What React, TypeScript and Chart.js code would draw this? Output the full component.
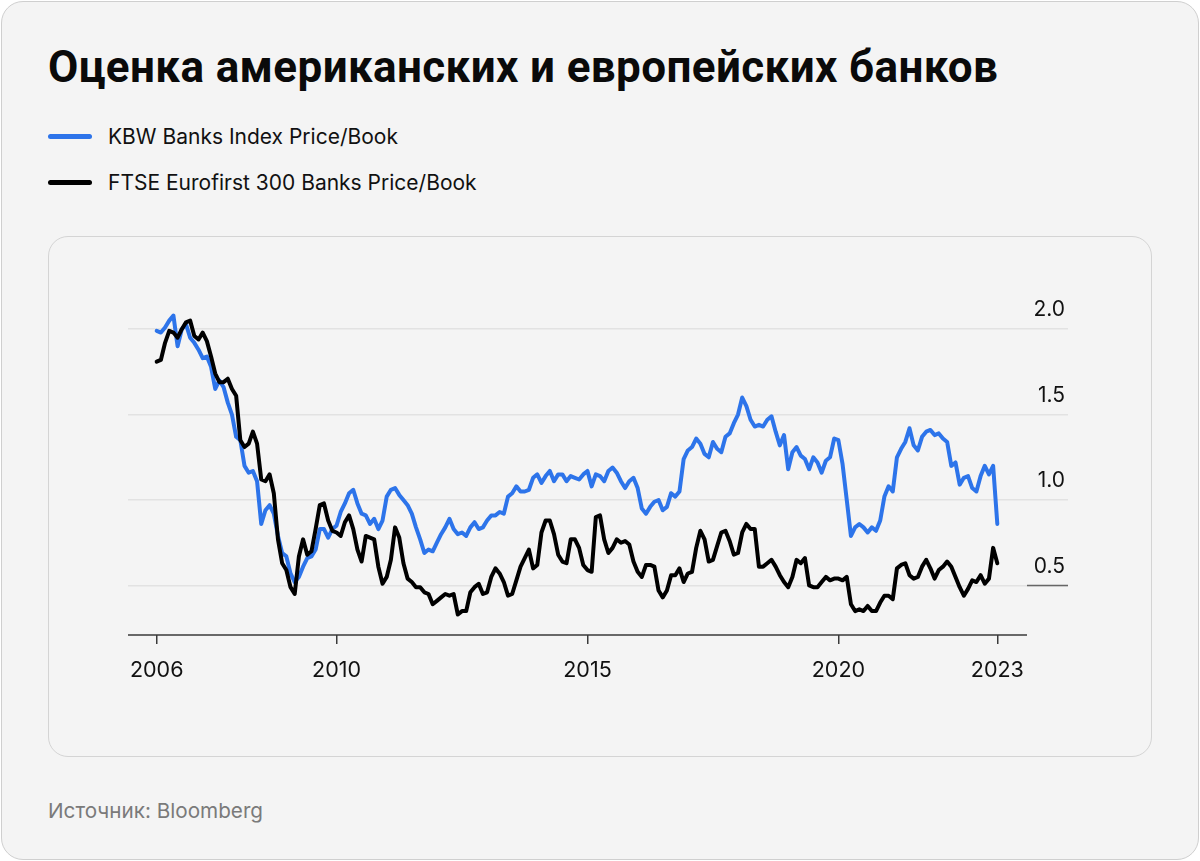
import React, { useEffect, useRef } from "react";
import { Chart, registerables } from "chart.js";

Chart.register(...registerables);

// Monthly observations, June 2006 – March 2023
const START_YEAR = 2006;
const START_MONTH = 6;

const kbwPriceBook = [
  1.99, 1.98, 2.01, 2.05, 2.08, 1.90, 2.00, 2.03, 1.95, 1.92, 1.88, 1.83, 1.84, 1.78, 1.65, 1.70,
  1.66, 1.57, 1.50, 1.37, 1.35, 1.20, 1.16, 1.17, 1.11, 0.86, 0.94, 0.97, 0.92, 0.79, 0.69, 0.67,
  0.57, 0.52, 0.55, 0.61, 0.66, 0.67, 0.71, 0.83, 0.83, 0.78, 0.83, 0.85, 0.93, 0.98, 1.04, 1.06,
  0.98, 0.92, 0.91, 0.86, 0.89, 0.83, 0.88, 1.02, 1.06, 1.07, 1.03, 1.00, 0.97, 0.92, 0.84, 0.77,
  0.69, 0.71, 0.70, 0.75, 0.80, 0.84, 0.89, 0.83, 0.80, 0.81, 0.79, 0.84, 0.87, 0.83, 0.84, 0.88,
  0.91, 0.91, 0.93, 0.92, 1.02, 1.04, 1.08, 1.05, 1.05, 1.06, 1.13, 1.15, 1.10, 1.14, 1.17, 1.11,
  1.15, 1.15, 1.11, 1.14, 1.13, 1.12, 1.15, 1.17, 1.08, 1.15, 1.14, 1.11, 1.17, 1.19, 1.16, 1.11,
  1.07, 1.11, 1.13, 1.07, 0.95, 0.92, 0.96, 0.99, 1.00, 0.94, 0.96, 1.04, 1.02, 1.05, 1.24, 1.29,
  1.31, 1.36, 1.33, 1.27, 1.25, 1.34, 1.30, 1.28, 1.37, 1.39, 1.45, 1.50, 1.60, 1.55, 1.47, 1.43,
  1.44, 1.43, 1.47, 1.49, 1.40, 1.32, 1.38, 1.18, 1.28, 1.31, 1.26, 1.24, 1.18, 1.25, 1.22, 1.16,
  1.23, 1.25, 1.36, 1.35, 1.21, 1.00, 0.79, 0.84, 0.86, 0.84, 0.81, 0.84, 0.82, 0.88, 1.02, 1.08,
  1.05, 1.25, 1.30, 1.34, 1.42, 1.32, 1.29, 1.37, 1.40, 1.41, 1.38, 1.39, 1.36, 1.34, 1.20, 1.22,
  1.09, 1.13, 1.14, 1.07, 1.05, 1.14, 1.20, 1.15, 1.20, 0.86,
];

const ftsePriceBook = [
  1.81, 1.82, 1.92, 1.99, 1.98, 1.95, 2.00, 2.04, 2.05, 1.96, 1.94, 1.98, 1.93, 1.84, 1.74, 1.69,
  1.69, 1.71, 1.65, 1.61, 1.35, 1.31, 1.33, 1.40, 1.33, 1.12, 1.11, 1.15, 1.04, 0.77, 0.63, 0.59,
  0.49, 0.45, 0.67, 0.77, 0.68, 0.70, 0.83, 0.97, 0.98, 0.88, 0.82, 0.81, 0.79, 0.87, 0.91, 0.83,
  0.71, 0.64, 0.79, 0.78, 0.77, 0.61, 0.51, 0.55, 0.65, 0.84, 0.78, 0.63, 0.54, 0.52, 0.49, 0.49,
  0.46, 0.45, 0.39, 0.41, 0.43, 0.45, 0.44, 0.45, 0.33, 0.35, 0.35, 0.46, 0.49, 0.51, 0.45, 0.46,
  0.55, 0.60, 0.57, 0.52, 0.44, 0.45, 0.53, 0.61, 0.66, 0.71, 0.60, 0.62, 0.81, 0.88, 0.88, 0.80,
  0.68, 0.64, 0.63, 0.77, 0.77, 0.72, 0.62, 0.59, 0.58, 0.90, 0.91, 0.77, 0.69, 0.72, 0.77, 0.75,
  0.76, 0.74, 0.64, 0.58, 0.55, 0.62, 0.62, 0.61, 0.47, 0.43, 0.47, 0.56, 0.56, 0.60, 0.52, 0.57,
  0.58, 0.72, 0.82, 0.77, 0.64, 0.65, 0.73, 0.81, 0.82, 0.76, 0.68, 0.69, 0.81, 0.86, 0.83, 0.83,
  0.61, 0.61, 0.63, 0.65, 0.61, 0.56, 0.52, 0.49, 0.55, 0.65, 0.63, 0.66, 0.50, 0.49, 0.49, 0.52,
  0.55, 0.53, 0.54, 0.54, 0.53, 0.55, 0.39, 0.35, 0.36, 0.35, 0.38, 0.35, 0.35, 0.40, 0.44, 0.44,
  0.42, 0.60, 0.62, 0.63, 0.56, 0.54, 0.55, 0.61, 0.65, 0.60, 0.54, 0.59, 0.61, 0.64, 0.61, 0.55,
  0.49, 0.44, 0.48, 0.53, 0.52, 0.56, 0.51, 0.54, 0.72, 0.63,
];

const monthLabels = kbwPriceBook.map((_, i) => {
  const t = START_MONTH - 1 + i;
  return `${START_YEAR + Math.floor(t / 12)}-${String((t % 12) + 1).padStart(2, "0")}`;
});

const xTickIndex = [0, 43, 103, 163, 201];
const xTickLabels = ["2006", "2010", "2015", "2020", "2023"];
const yTickValues = [0.5, 1.0, 1.5, 2.0];

const TITLE = "Оценка американских и европейских банков";
const LEGEND_KBW = "KBW Banks Index Price/Book";
const LEGEND_FTSE = "FTSE Eurofirst 300 Banks Price/Book";
const SOURCE = "Источник: Bloomberg";

const BLUE = "#2d74ea";
const FONT = "Inter, 'Noto Sans', sans-serif";

const axisPlugin = {
  id: "axisLine",
  afterDraw(chart: any) {
    const { ctx, chartArea, scales } = chart;
    const y = scales.y;
    ctx.save();
    ctx.lineWidth = 1.5;
    ctx.strokeStyle = "#3a3a3a";
    const xEnd = chartArea.right - 41;
    ctx.beginPath();
    ctx.moveTo(chartArea.left, chartArea.bottom);
    ctx.lineTo(xEnd, chartArea.bottom);
    ctx.stroke();
    const y05 = y.getPixelForValue(0.5);
    ctx.strokeStyle = "#666";
    ctx.beginPath();
    ctx.moveTo(xEnd, y05);
    ctx.lineTo(chartArea.right, y05);
    ctx.stroke();
    ctx.restore();
  },
};

export default function App() {
  const canvasRef = useRef<HTMLCanvasElement | null>(null);

  useEffect(() => {
    if (!canvasRef.current) return;
    const chart = new Chart(canvasRef.current, {
      type: "line",
      data: {
        labels: monthLabels,
        datasets: [
          {
            label: LEGEND_FTSE,
            data: ftsePriceBook.map((v, i) => ({ x: i, y: v })),
            borderColor: "#000000",
            borderWidth: 4,
            pointRadius: 0,
            tension: 0,
            borderJoinStyle: "round",
            borderCapStyle: "round",
          },
          {
            label: LEGEND_KBW,
            data: kbwPriceBook.map((v, i) => ({ x: i, y: v })),
            borderColor: BLUE,
            borderWidth: 4,
            pointRadius: 0,
            tension: 0,
            borderJoinStyle: "round",
            borderCapStyle: "round",
          },
        ],
      },
      options: {
        animation: false,
        responsive: false,
        maintainAspectRatio: false,
        layout: { padding: { left: 80, right: 83, top: 58, bottom: 60 } },
        plugins: { legend: { display: false }, tooltip: { enabled: false } },
        scales: {
          x: {
            type: "linear",
            min: -6.86,
            max: 217.9,
            afterBuildTicks: (s: any) => {
              s.ticks = xTickIndex.map((v) => ({ value: v }));
            },
            afterFit: (s: any) => {
              s.height = 60;
            },
            ticks: {
              autoSkip: false,
              maxRotation: 0,
              padding: 14,
              color: "#111",
              font: { family: FONT, size: 21.5 },
              callback: (v: any) => {
                const k = xTickIndex.indexOf(Number(v));
                return k >= 0 ? xTickLabels[k] : "";
              },
            },
            grid: {
              drawOnChartArea: false,
              drawTicks: true,
              tickLength: 9,
              color: "#3a3a3a",
              lineWidth: 1.5,
            },
            border: { display: false },
          },
          y: {
            type: "linear",
            position: "right",
            min: 0.21,
            max: 2.2,
            afterBuildTicks: (s: any) => {
              s.ticks = yTickValues.map((v) => ({ value: v }));
            },
            afterFit: (s: any) => {
              s.width = 0;
            },
            ticks: {
              mirror: true,
              padding: -3,
              labelOffset: -19,
              color: "#111",
              font: { family: FONT, size: 21 },
              callback: (v: any) => Number(v).toFixed(1),
            },
            grid: { drawTicks: false, color: "#e2e2e2", lineWidth: 1.5 },
            border: { display: false },
          },
        },
      },
      plugins: [axisPlugin],
    });
    return () => chart.destroy();
  }, []);

  return (
    <div style={{ position: "absolute", left: 0, top: 0, width: 1200, height: 861, background: "#ffffff", fontFamily: FONT }}>
      <div
        style={{
          position: "absolute",
          left: 1,
          top: 1,
          width: 1198,
          height: 859,
          boxSizing: "border-box",
          border: "1px solid #cfcfcf",
          borderRadius: 22,
          background: "#f4f4f4",
        }}
      />
      <div
        style={{
          position: "absolute",
          left: 48,
          top: 45,
          fontFamily: "Roboto, sans-serif",
          fontWeight: 700,
          fontSize: 44,
          lineHeight: "44px",
          letterSpacing: "0.38px",
          color: "#0a0a0a",
          whiteSpace: "nowrap",
        }}
      >
        {TITLE}
      </div>
      <div style={{ position: "absolute", left: 48, top: 133.5, width: 44, height: 5, borderRadius: 3, background: BLUE }} />
      <div style={{ position: "absolute", left: 108, top: 125.5, fontSize: 21, lineHeight: "21px", color: "#111", whiteSpace: "nowrap" }}>
        {LEGEND_KBW}
      </div>
      <div style={{ position: "absolute", left: 48, top: 179.5, width: 44, height: 5, borderRadius: 3, background: "#000" }} />
      <div style={{ position: "absolute", left: 108, top: 171.5, fontSize: 21, lineHeight: "21px", color: "#111", whiteSpace: "nowrap" }}>
        {LEGEND_FTSE}
      </div>
      <div
        style={{
          position: "absolute",
          left: 48,
          top: 236,
          width: 1104,
          height: 521,
          boxSizing: "border-box",
          border: "1px solid #d4d4d4",
          borderRadius: 20,
          background: "#f4f4f4",
        }}
      />
      <canvas
        ref={canvasRef}
        width={1103}
        height={518}
        style={{ position: "absolute", left: 48, top: 237, width: 1103, height: 518 }}
      />
      <div style={{ position: "absolute", left: 48, top: 799.5, fontSize: 20.7, lineHeight: "21px", color: "#7a7a7a", whiteSpace: "nowrap" }}>
        {SOURCE}
      </div>
    </div>
  );
}
